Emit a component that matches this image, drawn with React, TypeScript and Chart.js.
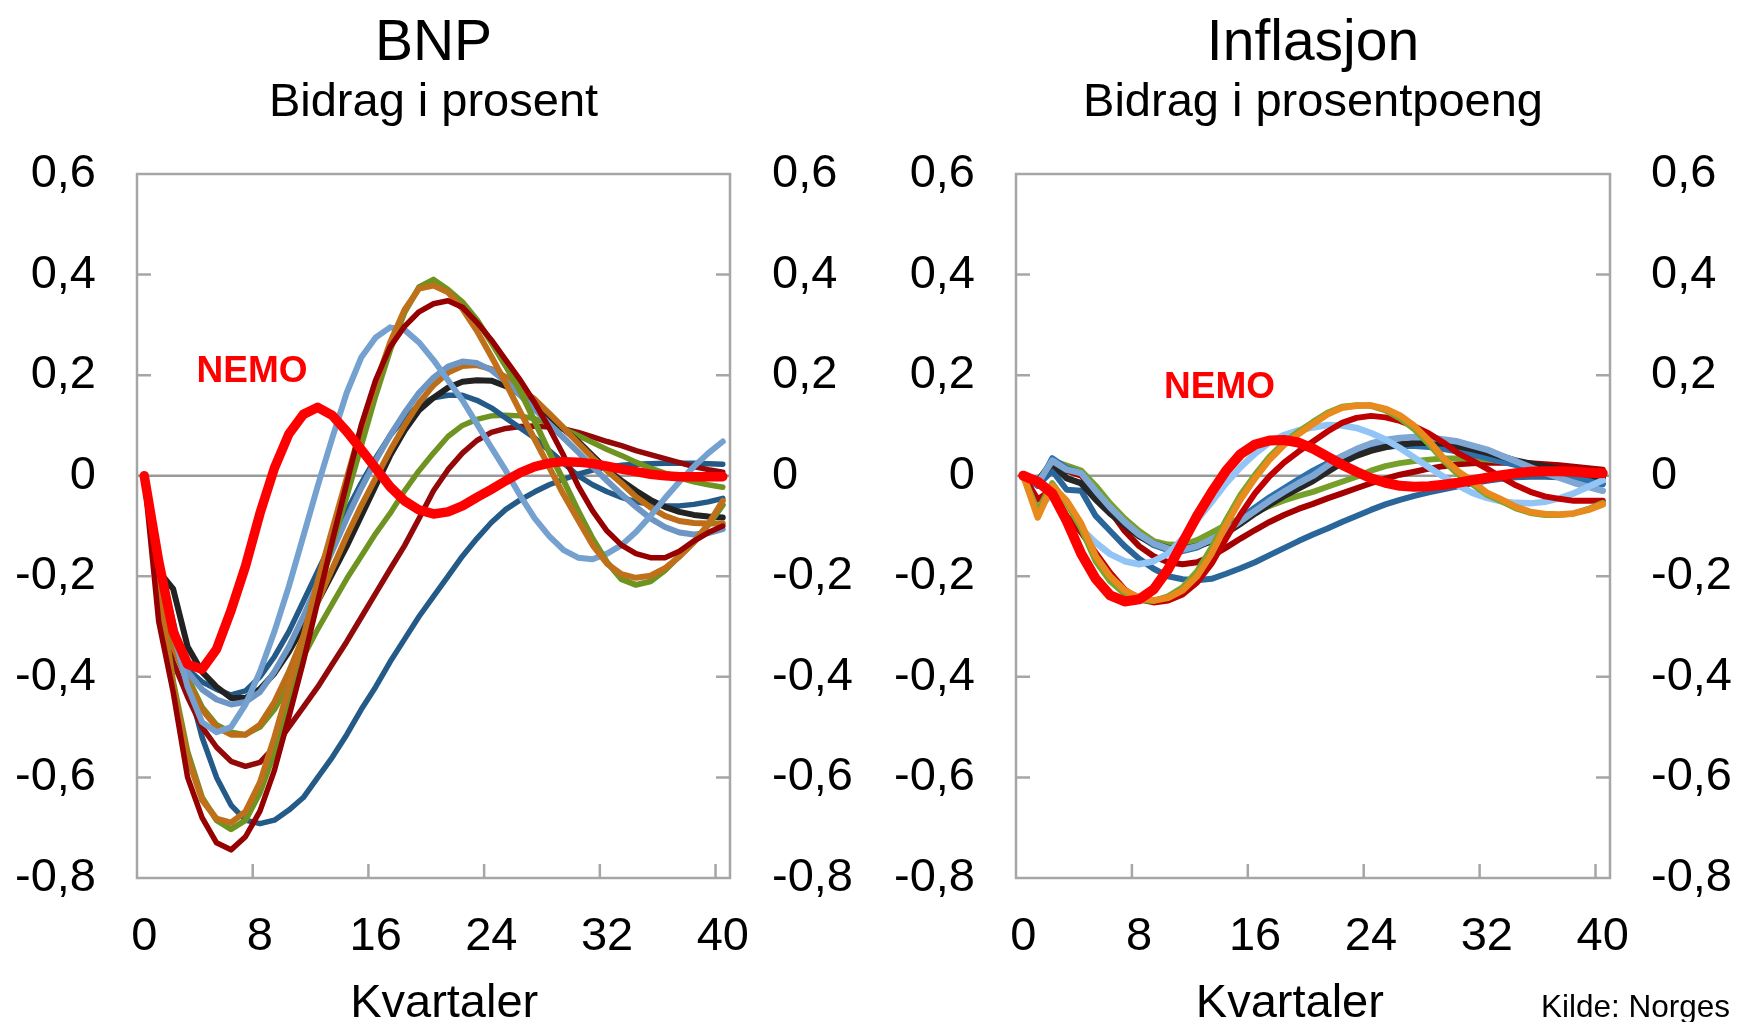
import { useEffect, useRef } from 'react';
import { Chart, registerables } from 'chart.js';

Chart.register(...registerables);

const FONT = "'Liberation Sans', Arial, Helvetica, sans-serif";

// ---------- categories / ticks ----------
const quarters = ['0','1','2','3','4','5','6','7','8','9','10','11','12','13','14','15','16','17','18','19','20',
  '21','22','23','24','25','26','27','28','29','30','31','32','33','34','35','36','37','38','39','40'];
const xTickQuarters = [8, 16, 24, 32, 40];
const yInnerTicks = [0.4, 0.2, -0.2, -0.4, -0.6];
const yMin = -0.8;
const yMax = 0.6;
const yStep = 0.2;

// ---------- BNP (left panel) ----------
const bnpNemo = [0, -0.17, -0.31, -0.375, -0.385, -0.345, -0.268, -0.18, -0.075, 0.015, 0.083, 0.122, 0.136, 0.12, 0.088, 0.052, 0.015, -0.022, -0.05, -0.068, -0.076, -0.072, -0.06, -0.043, -0.027, -0.01, 0.006, 0.018, 0.025, 0.028, 0.027, 0.024, 0.019, 0.013, 0.008, 0.003, 0, -0.002, -0.002, -0.002, -0.002];
const bnpDarkRedDeep = [0, -0.29, -0.43, -0.6, -0.68, -0.73, -0.744, -0.718, -0.667, -0.586, -0.48, -0.37, -0.25, -0.13, -0.015, 0.1, 0.19, 0.256, 0.297, 0.326, 0.342, 0.348, 0.335, 0.305, 0.27, 0.23, 0.19, 0.145, 0.095, 0.04, -0.02, -0.07, -0.11, -0.138, -0.155, -0.163, -0.163, -0.15, -0.13, -0.113, -0.1];
const bnpDarkRedMid = [0, -0.25, -0.37, -0.44, -0.5, -0.54, -0.568, -0.578, -0.57, -0.54, -0.5, -0.46, -0.42, -0.375, -0.33, -0.282, -0.234, -0.186, -0.139, -0.085, -0.03, 0.012, 0.045, 0.07, 0.086, 0.094, 0.098, 0.099, 0.097, 0.093, 0.086, 0.077, 0.068, 0.06, 0.05, 0.042, 0.034, 0.026, 0.018, 0.012, 0.007];
const bnpBlack = [0, -0.19, -0.225, -0.34, -0.39, -0.42, -0.442, -0.442, -0.424, -0.393, -0.35, -0.3, -0.25, -0.195, -0.14, -0.08, -0.02, 0.04, 0.09, 0.13, 0.155, 0.175, 0.187, 0.19, 0.189, 0.178, 0.162, 0.145, 0.118, 0.093, 0.068, 0.04, 0.012, -0.01, -0.03, -0.048, -0.062, -0.072, -0.078, -0.081, -0.083];
const bnpBlueShallow = [0, -0.17, -0.3, -0.385, -0.41, -0.425, -0.436, -0.428, -0.4, -0.36, -0.31, -0.25, -0.19, -0.13, -0.07, -0.015, 0.035, 0.08, 0.115, 0.14, 0.155, 0.16, 0.16, 0.15, 0.135, 0.115, 0.095, 0.075, 0.05, 0.025, 0, -0.018, -0.032, -0.043, -0.052, -0.057, -0.06, -0.06, -0.057, -0.052, -0.045];
const bnpBlueDeep = [0, -0.17, -0.29, -0.41, -0.52, -0.6, -0.655, -0.685, -0.692, -0.685, -0.665, -0.64, -0.6, -0.56, -0.515, -0.465, -0.42, -0.37, -0.325, -0.28, -0.24, -0.2, -0.16, -0.125, -0.093, -0.067, -0.048, -0.032, -0.018, -0.007, 0.003, 0.011, 0.017, 0.021, 0.023, 0.024, 0.025, 0.025, 0.025, 0.024, 0.023];
const bnpLightBlue = [0, -0.17, -0.31, -0.42, -0.49, -0.51, -0.5, -0.455, -0.39, -0.31, -0.22, -0.12, -0.02, 0.075, 0.165, 0.235, 0.275, 0.295, 0.29, 0.265, 0.23, 0.19, 0.15, 0.103, 0.056, 0.01, -0.04, -0.085, -0.12, -0.148, -0.163, -0.166, -0.155, -0.138, -0.112, -0.08, -0.045, -0.012, 0.018, 0.045, 0.068];
const bnpSteel = [0, -0.17, -0.3, -0.39, -0.425, -0.445, -0.455, -0.45, -0.43, -0.39, -0.34, -0.28, -0.215, -0.15, -0.085, -0.025, 0.03, 0.08, 0.125, 0.165, 0.195, 0.217, 0.227, 0.224, 0.21, 0.187, 0.16, 0.132, 0.103, 0.075, 0.047, 0.018, -0.01, -0.037, -0.062, -0.085, -0.102, -0.113, -0.117, -0.114, -0.106];
const bnpGreenDeep = [0, -0.22, -0.41, -0.55, -0.64, -0.685, -0.703, -0.685, -0.63, -0.55, -0.45, -0.35, -0.24, -0.135, -0.04, 0.06, 0.16, 0.25, 0.325, 0.375, 0.39, 0.37, 0.345, 0.31, 0.265, 0.218, 0.168, 0.108, 0.047, -0.01, -0.07, -0.125, -0.172, -0.206, -0.217, -0.21, -0.188, -0.16, -0.132, -0.098, -0.058];
const bnpOrangeDeep = [0, -0.22, -0.42, -0.56, -0.645, -0.682, -0.69, -0.668, -0.61, -0.52, -0.42, -0.32, -0.209, -0.107, -0.005, 0.095, 0.182, 0.265, 0.33, 0.372, 0.378, 0.365, 0.332, 0.288, 0.237, 0.184, 0.127, 0.072, 0.017, -0.038, -0.088, -0.138, -0.175, -0.196, -0.203, -0.199, -0.184, -0.161, -0.132, -0.096, -0.05];
const bnpGreenShallow = [0, -0.2, -0.33, -0.4, -0.46, -0.495, -0.51, -0.515, -0.5, -0.465, -0.415, -0.36, -0.305, -0.255, -0.205, -0.16, -0.115, -0.075, -0.03, 0.01, 0.045, 0.078, 0.1, 0.112, 0.119, 0.12, 0.119, 0.113, 0.104, 0.093, 0.08, 0.066, 0.052, 0.04, 0.027, 0.015, 0.005, -0.004, -0.012, -0.018, -0.023];
const bnpOrangeShallow = [0, -0.2, -0.34, -0.41, -0.465, -0.5, -0.515, -0.515, -0.495, -0.45, -0.39, -0.32, -0.25, -0.185, -0.12, -0.06, -0.005, 0.05, 0.1, 0.145, 0.18, 0.205, 0.218, 0.22, 0.212, 0.196, 0.172, 0.152, 0.124, 0.095, 0.065, 0.036, 0.01, -0.015, -0.042, -0.063, -0.08, -0.09, -0.094, -0.095, -0.095];

// ---------- Inflasjon (right panel) ----------
const infNemo = [0, -0.012, -0.035, -0.09, -0.155, -0.205, -0.238, -0.25, -0.246, -0.226, -0.186, -0.133, -0.08, -0.033, 0.01, 0.043, 0.062, 0.07, 0.071, 0.066, 0.054, 0.038, 0.022, 0.008, -0.005, -0.014, -0.02, -0.022, -0.021, -0.018, -0.014, -0.009, -0.004, 0.001, 0.005, 0.008, 0.009, 0.009, 0.008, 0.006, 0.005];
const infOrange = [0, -0.083, -0.02, -0.05, -0.095, -0.16, -0.2, -0.228, -0.242, -0.248, -0.243, -0.228, -0.2, -0.155, -0.098, -0.047, -0.005, 0.032, 0.061, 0.083, 0.103, 0.122, 0.135, 0.139, 0.14, 0.133, 0.12, 0.099, 0.07, 0.035, 0.009, -0.011, -0.034, -0.047, -0.062, -0.072, -0.076, -0.077, -0.075, -0.068, -0.057];
const infGreenDeep = [0, -0.07, -0.015, -0.055, -0.105, -0.17, -0.21, -0.235, -0.247, -0.249, -0.24, -0.222, -0.19, -0.143, -0.088, -0.038, 0.002, 0.038, 0.066, 0.088, 0.107, 0.125, 0.137, 0.14, 0.139, 0.13, 0.114, 0.092, 0.063, 0.03, 0.003, -0.017, -0.038, -0.051, -0.065, -0.074, -0.078, -0.078, -0.075, -0.066, -0.054];
const infDarkRedBright = [0, -0.047, -0.027, -0.08, -0.113, -0.153, -0.193, -0.226, -0.246, -0.252, -0.248, -0.236, -0.212, -0.175, -0.125, -0.077, -0.035, -0.001, 0.026, 0.048, 0.068, 0.088, 0.105, 0.115, 0.119, 0.116, 0.109, 0.098, 0.084, 0.066, 0.045, 0.03, 0.014, -0.003, -0.019, -0.032, -0.041, -0.046, -0.05, -0.05, -0.05];
const infLightBlue = [0, -0.067, -0.035, -0.09, -0.105, -0.133, -0.156, -0.17, -0.176, -0.17, -0.155, -0.125, -0.088, -0.052, -0.015, 0.017, 0.044, 0.066, 0.081, 0.09, 0.096, 0.101, 0.1, 0.095, 0.085, 0.072, 0.055, 0.036, 0.017, -0.002, -0.019, -0.034, -0.044, -0.051, -0.054, -0.055, -0.052, -0.045, -0.035, -0.022, -0.009];
const infDeepBlue = [0, -0.02, 0.01, -0.028, -0.03, -0.08, -0.11, -0.14, -0.165, -0.185, -0.2, -0.206, -0.208, -0.205, -0.195, -0.184, -0.172, -0.158, -0.144, -0.13, -0.117, -0.105, -0.092, -0.08, -0.068, -0.057, -0.048, -0.04, -0.033, -0.027, -0.021, -0.015, -0.01, -0.006, -0.003, -0.002, -0.002, -0.003, -0.006, -0.011, -0.017];
const infDarkRedMid = [0, -0.015, 0.03, 0.01, 0, -0.03, -0.07, -0.11, -0.14, -0.16, -0.172, -0.176, -0.172, -0.16, -0.143, -0.125, -0.108, -0.092, -0.078, -0.066, -0.056, -0.045, -0.035, -0.025, -0.015, -0.006, 0.002, 0.008, 0.014, 0.019, 0.023, 0.025, 0.026, 0.026, 0.026, 0.025, 0.023, 0.021, 0.018, 0.015, 0.012];
const infBlack = [0, -0.01, 0.025, -0.005, -0.015, -0.047, -0.075, -0.098, -0.12, -0.135, -0.144, -0.145, -0.14, -0.13, -0.114, -0.095, -0.075, -0.057, -0.04, -0.025, -0.01, 0.008, 0.026, 0.04, 0.05, 0.057, 0.062, 0.065, 0.066, 0.064, 0.059, 0.053, 0.046, 0.038, 0.03, 0.024, 0.019, 0.013, 0.008, 0.002, -0.005];
const infGreenShallow = [0, -0.01, 0.03, 0.02, 0.01, -0.02, -0.055, -0.085, -0.11, -0.13, -0.137, -0.138, -0.128, -0.113, -0.098, -0.084, -0.072, -0.06, -0.049, -0.04, -0.032, -0.022, -0.012, -0.002, 0.01, 0.019, 0.025, 0.029, 0.032, 0.034, 0.034, 0.034, 0.032, 0.029, 0.025, 0.021, 0.016, 0.012, 0.009, 0.007, 0.006];
const infBlue = [0, -0.02, 0.035, 0.015, 0.005, -0.03, -0.065, -0.095, -0.12, -0.138, -0.148, -0.15, -0.143, -0.128, -0.108, -0.085, -0.063, -0.043, -0.025, -0.007, 0.01, 0.025, 0.039, 0.048, 0.054, 0.058, 0.059, 0.059, 0.057, 0.053, 0.048, 0.042, 0.035, 0.028, 0.021, 0.015, 0.009, 0.004, -0.003, -0.01, -0.017];
const infSteel = [0, -0.015, 0.03, 0.012, 0.005, -0.03, -0.063, -0.092, -0.117, -0.135, -0.145, -0.147, -0.14, -0.127, -0.11, -0.09, -0.07, -0.05, -0.032, -0.015, 0, 0.02, 0.039, 0.053, 0.064, 0.071, 0.075, 0.077, 0.076, 0.072, 0.068, 0.06, 0.052, 0.04, 0.029, 0.017, 0.006, -0.004, -0.014, -0.022, -0.03];

type Series = { name: string; data: number[]; color: string; width: number };

const bnpSeries: Series[] = [
  { name: 'NEMO', data: bnpNemo, color: '#FF0000', width: 9.5 },
  { name: 'Modell A', data: bnpDarkRedDeep, color: '#960000', width: 5.5 },
  { name: 'Modell B', data: bnpOrangeDeep, color: '#C0701A', width: 6 },
  { name: 'Modell C', data: bnpGreenDeep, color: '#6E9321', width: 6 },
  { name: 'Modell D', data: bnpLightBlue, color: '#74A1CF', width: 6 },
  { name: 'Modell E', data: bnpSteel, color: '#6D96C4', width: 6 },
  { name: 'Modell F', data: bnpOrangeShallow, color: '#BD6D17', width: 6 },
  { name: 'Modell G', data: bnpBlack, color: '#222222', width: 6 },
  { name: 'Modell H', data: bnpBlueShallow, color: '#245A87', width: 5.5 },
  { name: 'Modell I', data: bnpGreenShallow, color: '#6E9321', width: 5.5 },
  { name: 'Modell J', data: bnpDarkRedMid, color: '#930808', width: 5.5 },
  { name: 'Modell K', data: bnpBlueDeep, color: '#245A87', width: 5.5 },
];

const infSeries: Series[] = [
  { name: 'NEMO', data: infNemo, color: '#FF0000', width: 10 },
  { name: 'Modell A', data: infOrange, color: '#E88A1D', width: 6.5 },
  { name: 'Modell B', data: infGreenDeep, color: '#7AA52D', width: 6 },
  { name: 'Modell C', data: infDarkRedBright, color: '#C00000', width: 6 },
  { name: 'Modell D', data: infLightBlue, color: '#92C5F5', width: 6.5 },
  { name: 'Modell E', data: infSteel, color: '#7EA7D4', width: 6.5 },
  { name: 'Modell F', data: infBlack, color: '#262626', width: 6.5 },
  { name: 'Modell G', data: infBlue, color: '#2E72AD', width: 6 },
  { name: 'Modell H', data: infGreenShallow, color: '#77A02A', width: 6 },
  { name: 'Modell I', data: infDarkRedMid, color: '#A50000', width: 6 },
  { name: 'Modell J', data: infDeepBlue, color: '#2A6699', width: 6 },
];

const fmt = (v: any) => {
  const r = Math.round(Number(v) * 10) / 10;
  return r === 0 ? '0' : String(r).replace('.', ',');
};

const framePlugin = {
  id: 'panelFrame',
  beforeDatasetsDraw(chart: any) {
    const { ctx, chartArea: a, scales } = chart;
    const ys = scales.y;
    const xs = scales.x;
    ctx.save();
    ctx.lineWidth = 2.5;
    ctx.strokeStyle = '#999999';
    ctx.beginPath();
    const y0 = ys.getPixelForValue(0);
    ctx.moveTo(a.left, y0);
    ctx.lineTo(a.right, y0);
    ctx.stroke();
    ctx.strokeStyle = '#A6A6A6';
    ctx.beginPath();
    for (const v of yInnerTicks) {
      const y = ys.getPixelForValue(v);
      ctx.moveTo(a.left, y);
      ctx.lineTo(a.left + 14, y);
      ctx.moveTo(a.right - 14, y);
      ctx.lineTo(a.right, y);
    }
    const half = (xs.getPixelForValue(1) - xs.getPixelForValue(0)) / 2;
    for (const q of xTickQuarters) {
      const x = xs.getPixelForValue(q) - half;
      ctx.moveTo(x, a.bottom);
      ctx.lineTo(x, a.bottom - 14);
    }
    ctx.stroke();
    ctx.strokeRect(a.left, a.top, a.right - a.left, a.bottom - a.top);
    ctx.restore();
  },
};

const textPlugin = {
  id: 'panelText',
  afterDraw(chart: any, _args: any, opts: any) {
    const { ctx, chartArea: a, scales } = chart;
    const cx = (a.left + a.right) / 2;
    ctx.save();
    ctx.fillStyle = '#000000';
    ctx.textAlign = 'center';
    ctx.textBaseline = 'alphabetic';
    ctx.font = `57px ${FONT}`;
    ctx.fillText(opts.title, cx, 60);
    ctx.font = `47px ${FONT}`;
    ctx.fillText(opts.subtitle, cx, 116);
    ctx.fillText(opts.xTitle, a.left + opts.xTitleFrac * (a.right - a.left), 1017);
    ctx.font = `bold 37px ${FONT}`;
    ctx.fillStyle = '#FF0000';
    ctx.textBaseline = 'middle';
    ctx.fillText(opts.nemoText, scales.x.getPixelForValue(opts.nemoAt[0]), scales.y.getPixelForValue(opts.nemoAt[1]));
    if (opts.source) {
      ctx.font = `31.5px ${FONT}`;
      ctx.fillStyle = '#000000';
      ctx.textAlign = 'left';
      ctx.textBaseline = 'alphabetic';
      ctx.fillText(opts.source, opts.sourceX, 1017);
    }
    ctx.restore();
  },
};

type PanelProps = {
  series: Series[];
  title: string;
  subtitle: string;
  xTitle: string;
  xTitleFrac: number;
  nemoAt: [number, number];
  leftW: number;
  rightW: number;
  rightPad: number;
  width: number;
  left: number;
  source?: string;
  sourceX?: number;
};

function Panel(p: PanelProps) {
  const ref = useRef<HTMLCanvasElement | null>(null);
  useEffect(() => {
    if (!ref.current) return;
    const tickFont = { size: 47, family: FONT };
    const chart = new Chart(ref.current, {
      type: 'line',
      data: {
        labels: quarters,
        datasets: p.series.map((s) => ({
          label: s.name,
          data: s.data,
          borderColor: s.color,
          backgroundColor: s.color,
          borderWidth: s.width,
          pointRadius: 0,
          pointHoverRadius: 0,
          tension: 0,
          fill: false,
          borderJoinStyle: 'round',
          borderCapStyle: 'round',
          yAxisID: 'y',
        })),
      },
      options: {
        responsive: false,
        animation: false,
        devicePixelRatio: 1,
        events: [],
        layout: { padding: { top: 174, left: 0, right: 0, bottom: 0 } },
        plugins: {
          legend: { display: false },
          tooltip: { enabled: false },
          title: { display: false },
          panelText: {
            title: p.title,
            subtitle: p.subtitle,
            xTitle: p.xTitle,
            xTitleFrac: p.xTitleFrac,
            nemoText: 'NEMO',
            nemoAt: p.nemoAt,
            source: p.source,
            sourceX: p.sourceX,
          },
        } as any,
        scales: {
          x: {
            type: 'category',
            offset: true,
            grid: { display: false, drawTicks: false },
            border: { display: false },
            ticks: {
              autoSkip: false,
              maxRotation: 0,
              minRotation: 0,
              padding: 31,
              color: '#000000',
              font: tickFont,
              callback: (_v: any, i: number) => (i % 8 === 0 ? quarters[i] : ''),
            },
            afterFit: (s: any) => {
              s.height = 144;
            },
          },
          y: {
            type: 'linear',
            position: 'left',
            min: yMin,
            max: yMax,
            grid: { display: false, drawTicks: false },
            border: { display: false },
            ticks: { stepSize: yStep, padding: 41, color: '#000000', font: tickFont, callback: fmt },
            afterFit: (s: any) => {
              s.width = p.leftW;
            },
          },
          y2: {
            type: 'linear',
            position: 'right',
            display: true,
            min: yMin,
            max: yMax,
            grid: { display: false, drawTicks: false },
            border: { display: false },
            ticks: { stepSize: yStep, padding: p.rightPad, color: '#000000', font: tickFont, callback: fmt },
            afterFit: (s: any) => {
              s.width = p.rightW;
            },
          },
        },
      } as any,
      plugins: [framePlugin, textPlugin],
    });
    return () => chart.destroy();
  }, []);
  return (
    <canvas
      ref={ref}
      width={p.width}
      height={1022}
      style={{ position: 'absolute', left: p.left, top: 0, width: p.width, height: 1022 }}
    />
  );
}

export default function App() {
  useEffect(() => {
    document.body.style.margin = '0';
  }, []);
  return (
    <div style={{ position: 'absolute', left: 0, top: 0, width: 1737, height: 1022, overflow: 'hidden', background: '#ffffff' }}>
      <Panel
        series={bnpSeries}
        title="BNP"
        subtitle="Bidrag i prosent"
        xTitle="Kvartaler"
        xTitleFrac={0.518}
        nemoAt={[7.45, 0.207]}
        leftW={137}
        rightW={138}
        rightPad={42}
        width={868}
        left={0}
      />
      <Panel
        series={infSeries}
        title="Inflasjon"
        subtitle="Bidrag i prosentpoeng"
        xTitle="Kvartaler"
        xTitleFrac={0.461}
        nemoAt={[13.55, 0.174]}
        leftW={148}
        rightW={127}
        rightPad={41}
        width={869}
        left={868}
        source="Kilde: Norges Bank"
        sourceX={673}
      />
    </div>
  );
}
